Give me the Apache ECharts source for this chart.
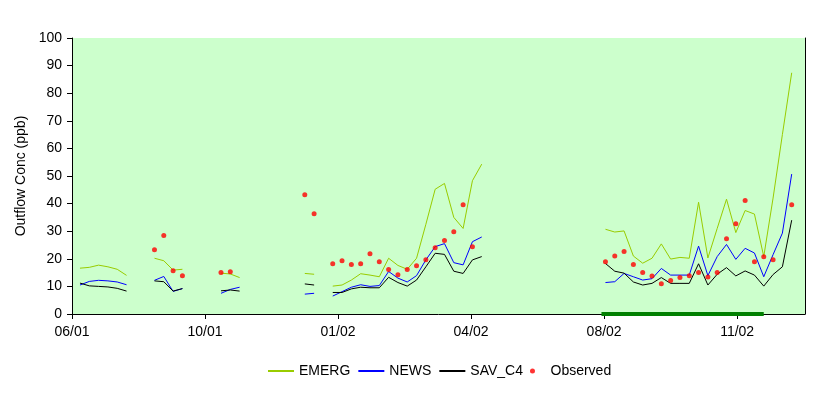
<!DOCTYPE html>
<html>
<head>
<meta charset="utf-8">
<script src="https://cdn.jsdelivr.net/npm/echarts@6/dist/echarts.min.js"></script>
<style>html,body{margin:0;padding:0;background:#fff}#c{width:828px;height:395px}</style>
</head>
<body>
<div id="c"></div>
<script>
// x axis: days since 06/29/2001 (ticks every 100 days)
const xTickDays = [0, 100, 200, 300, 400, 500];
const xTickLabels = ['06/01', '10/01', '01/02', '04/02', '08/02', '11/02'];

const days = [
  6, 13, 20, 27, 34, 41,
  62, 69, 76, 83,
  112, 119, 126,
  175, 182,
  196, 203, 210, 217, 224, 231, 238, 245, 252, 259, 266, 273, 280, 287, 294, 301, 308,
  401, 408, 415, 422, 429, 436, 443, 450, 457, 464, 471, 478, 485, 492, 499, 506, 513, 520, 527, 534, 541
];

const emerg = [
  16.6, 16.9, 17.7, 17.1, 16.2, 14.0,
  20.2, 19.3, 15.9, 16.2,
  14.8, 14.5, 13.2,
  14.7, 14.4,
  10.1, 10.5, 12.3, 14.6, 14.1, 13.5, 20.2, 17.6, 16.2, 20.2, 32.5, 45.2, 47.3, 35.0, 31.0, 48.3, 54.3,
  30.7, 29.7, 30.1, 21.0, 18.4, 20.2, 25.4, 19.9, 20.5, 20.2, 40.5, 20.3, 31.0, 41.6, 29.5, 37.5, 36.2, 20.8, 42.0, 65.0, 87.4
];

const news = [
  10.5, 11.8, 12.2, 12.0, 11.6, 10.6,
  12.2, 13.6, 8.2, 9.2,
  7.5, 8.9, 9.7,
  7.2, 7.5,
  6.5, 8.1, 9.7, 10.6, 10.0, 10.3, 15.4, 13.0, 11.6, 13.9, 19.6, 24.4, 25.5, 18.6, 17.8, 26.2, 27.9,
  11.4, 11.7, 14.7, 13.5, 12.3, 12.8, 16.5, 14.1, 14.1, 14.1, 24.6, 13.9, 20.8, 25.2, 19.8, 23.8, 22.1, 13.5, 21.5, 29.3, 50.7
];

const savC4 = [
  11.2, 10.2, 10.0, 9.8, 9.3, 8.3,
  12.0, 11.7, 8.3, 9.2,
  8.4, 8.7, 8.3,
  10.9, 10.5,
  7.8, 7.8, 9.1, 9.7, 9.5, 9.5, 13.3, 11.4, 10.1, 12.3, 17.1, 22.0, 21.6, 15.5, 14.7, 19.6, 20.8,
  18.3, 15.5, 14.8, 11.6, 10.5, 11.1, 13.2, 11.1, 11.1, 11.1, 18.2, 10.5, 14.4, 16.8, 13.8, 15.6, 14.1, 10.1, 14.3, 17.1, 34.0
];

const observed = [
  null, null, null, null, null, null,
  23.3, 28.4, 15.7, 13.9,
  15.0, 15.3, null,
  43.2, 36.3,
  18.2, 19.3, 17.9, 18.2, 21.8, 18.9, 16.1, 14.2, 16.1, 17.5, 19.7, 24.0, 26.6, 29.8, 39.6, 24.4, null,
  18.9, 21.0, 22.6, 17.9, 15.0, 13.8, 11.0, 12.1, 13.2, 13.9, 15.0, 13.4, 15.0, 27.3, 32.7, 41.1, 18.9, 20.7, 19.7, null, 39.6
];

// dark green bar along the x axis (start day, end day)
const periodDays = [398, 520];

function lineData(vals) {
  const out = [];
  for (let i = 0; i < days.length; i++) {
    if (i > 0 && days[i] - days[i - 1] > 10) out.push([(days[i] + days[i - 1]) / 2, '-']);
    out.push([days[i], vals[i]]);
  }
  return out;
}
function pointData(vals) {
  const out = [];
  for (let i = 0; i < days.length; i++) if (vals[i] != null) out.push([days[i], vals[i]]);
  return out;
}

const font = 'Liberation Sans, Arial, sans-serif';
const chart = echarts.init(document.getElementById('c'), null, { renderer: 'canvas' });
chart.setOption({
  backgroundColor: '#ffffff',
  animation: false,
  grid: { left: 72, right: 23, top: 38, bottom: 81, show: true, backgroundColor: '#ccffcc', borderWidth: 0 },
  legend: {
    left: 267, top: 364, padding: 0,
    itemWidth: 26, itemHeight: 5, itemGap: 7,
    textStyle: { fontFamily: font, fontSize: 14, color: '#000' },
    data: [
      { name: 'EMERG', itemStyle: { opacity: 0 } },
      { name: 'NEWS', itemStyle: { opacity: 0 } },
      { name: 'SAV_C4', itemStyle: { opacity: 0 } },
      { name: 'Observed', icon: 'circle' }
    ]
  },
  xAxis: {
    type: 'value', min: 0, max: 551, interval: 100,
    axisLine: { show: true, lineStyle: { color: '#000', width: 1 } },
    axisTick: { show: true, length: 5, lineStyle: { color: '#000' }, customValues: xTickDays },
    axisLabel: {
      customValues: xTickDays, margin: 11,
      fontFamily: font, fontSize: 14, color: '#000',
      formatter: v => { const i = xTickDays.indexOf(v); return i >= 0 ? xTickLabels[i] : ''; }
    },
    splitLine: { show: false }
  },
  yAxis: [{
    type: 'value', min: 0, max: 100, interval: 10,
    name: 'Outflow Conc (ppb)', nameLocation: 'middle', nameGap: 42, nameRotate: 90,
    nameTextStyle: { fontFamily: font, fontSize: 14, color: '#000' },
    axisLine: { show: true, lineStyle: { color: '#000', width: 1 } },
    axisTick: { show: true, length: 5, lineStyle: { color: '#000' } },
    axisLabel: { margin: 10, fontFamily: font, fontSize: 14, color: '#000' },
    splitLine: { show: false }
  }, {
    type: 'value', min: 0, max: 100, interval: 10, position: 'right',
    axisLine: { show: true, lineStyle: { color: '#000', width: 1 } },
    axisTick: { show: false }, axisLabel: { show: false }, splitLine: { show: false }
  }],
  series: [
    { name: 'EMERG', type: 'line', data: lineData(emerg), symbol: 'none', connectNulls: false,
      lineStyle: { color: '#99cc00', width: 1 }, itemStyle: { color: '#99cc00' } },
    { name: 'NEWS', type: 'line', data: lineData(news), symbol: 'none', connectNulls: false,
      lineStyle: { color: '#0000ff', width: 1 }, itemStyle: { color: '#0000ff' } },
    { name: 'SAV_C4', type: 'line', data: lineData(savC4), symbol: 'none', connectNulls: false,
      lineStyle: { color: '#000000', width: 1 }, itemStyle: { color: '#000000' } },
    { name: 'Observed', type: 'scatter', data: pointData(observed), symbol: 'circle', symbolSize: 5,
      itemStyle: { color: '#ff0000' }, z: 5 },
    { name: 'period', type: 'line', data: periodDays.map(d => [d, 0]), symbol: 'none', clip: false,
      lineStyle: { color: '#008000', width: 4 }, z: 6, silent: true }
  ]
});
</script>
</body>
</html>
